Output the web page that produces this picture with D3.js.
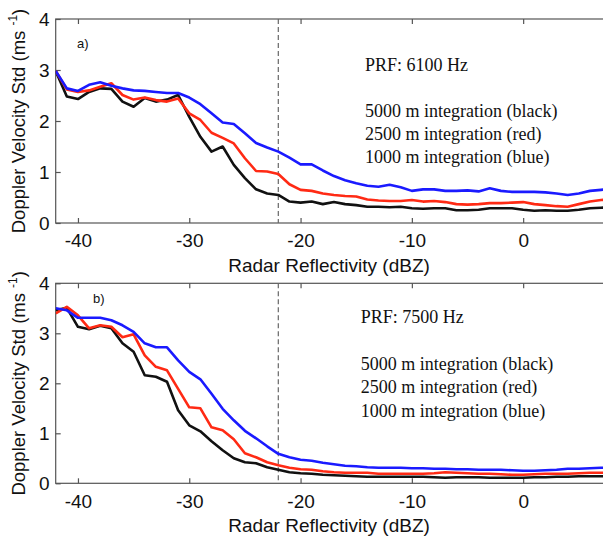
<!DOCTYPE html>
<html><head><meta charset="utf-8">
<script src="https://cdn.jsdelivr.net/npm/d3@7"></script>
<style>body{margin:0;background:#fff}</style>
</head><body><svg id="c" width="603" height="536"></svg>
<script>
// x categories (dBZ)
const dbz = [-42,-41,-40,-39,-38,-37,-36,-35,-34,-33,-32,-31,-30,-29,-28,-27,-26,-25,-24,-23,-22,-21,-20,
  -19,-18,-17,-16,-15,-14,-13,-12,-11,-10,-9,-8,-7,-6,-5,-4,-3,-2,-1,0,1,2,3,4,5,6,7,8];

// Panel a) PRF 6100 Hz
const aBlack = [2.98,2.48,2.43,2.57,2.64,2.63,2.38,2.28,2.45,2.38,2.42,2.51,2.08,1.69,1.40,1.50,1.14,0.88,0.66,0.58,0.55,0.42,0.40,
  0.42,0.37,0.41,0.37,0.35,0.32,0.32,0.31,0.32,0.29,0.28,0.29,0.29,0.25,0.25,0.26,0.29,0.29,0.29,0.26,0.24,0.25,0.24,0.24,0.26,0.29,0.30,0.31];
const aRed = [2.98,2.62,2.57,2.60,2.67,2.74,2.51,2.42,2.46,2.41,2.38,2.44,2.15,2.02,1.77,1.67,1.56,1.27,1.02,1.01,0.96,0.76,0.65,
  0.63,0.58,0.55,0.53,0.52,0.46,0.44,0.43,0.43,0.45,0.42,0.43,0.41,0.37,0.36,0.37,0.39,0.39,0.40,0.41,0.37,0.35,0.33,0.32,0.37,0.42,0.45,0.47];
const aBlue = [2.98,2.64,2.59,2.71,2.76,2.69,2.64,2.60,2.59,2.57,2.55,2.55,2.46,2.33,2.15,1.97,1.94,1.76,1.57,1.48,1.40,1.28,1.15,
  1.15,1.03,0.92,0.84,0.78,0.73,0.71,0.75,0.70,0.63,0.66,0.66,0.63,0.63,0.64,0.62,0.68,0.63,0.61,0.61,0.61,0.60,0.58,0.55,0.58,0.63,0.65,0.67];

// Panel b) PRF 7500 Hz
const bBlack = [3.46,3.51,3.13,3.08,3.15,3.10,2.80,2.63,2.16,2.13,2.03,1.46,1.16,1.04,0.84,0.66,0.50,0.42,0.40,0.32,0.27,0.22,0.20,
  0.19,0.17,0.16,0.15,0.14,0.13,0.13,0.13,0.13,0.13,0.13,0.12,0.11,0.12,0.12,0.12,0.11,0.11,0.11,0.11,0.12,0.12,0.13,0.13,0.14,0.14,0.14,0.14];
const bRed = [3.40,3.53,3.36,3.10,3.16,3.13,2.92,2.98,2.56,2.33,2.26,1.89,1.52,1.50,1.12,1.06,0.88,0.60,0.52,0.42,0.36,0.31,0.28,
  0.27,0.24,0.22,0.21,0.21,0.21,0.19,0.19,0.19,0.19,0.19,0.20,0.22,0.21,0.20,0.19,0.19,0.18,0.17,0.17,0.18,0.19,0.19,0.19,0.20,0.21,0.21,0.21];
const bBlue = [3.50,3.46,3.31,3.31,3.31,3.26,3.16,3.03,2.80,2.72,2.72,2.46,2.23,2.08,1.79,1.49,1.26,1.05,0.90,0.74,0.59,0.52,0.47,
  0.45,0.41,0.38,0.35,0.34,0.32,0.31,0.31,0.31,0.30,0.30,0.29,0.29,0.28,0.28,0.27,0.27,0.27,0.26,0.25,0.25,0.26,0.27,0.29,0.29,0.30,0.31,0.31];

const xTicks = [-40,-30,-20,-10,0];
const yTicks = [0,1,2,3,4];
const thresholdDbz = -22;
const legendLines = ["5000 m integration (black)","2500 m integration (red)","1000 m integration (blue)"];
const seriesColors = ["#111111","#ff2a14","#1a1aff"];
const xLabel = "Radar Reflectivity (dBZ)";
const yLabel = "Doppler Velocity Std (ms";

const panels = [
  {top:19, bottom:223, tag:"a)", tagX:77, tagY:48, prf:"PRF: 6100 Hz", legX:365, legY:[70.7,117.3,140.3,163.3], data:[aBlack,aRed,aBlue]},
  {top:283.3, bottom:483.3, tag:"b)", tagX:93, tagY:303, prf:"PRF: 7500 Hz", legX:360.7, legY:[323.3,370,393.3,416.7], data:[bBlack,bRed,bBlue]}
];

const svg = d3.select("#c");
const left = 55.7, right = 612.2;
const x = d3.scaleLinear().domain([-42, 8]).range([left, right]);
const sans = "Liberation Sans, Arial, Helvetica, sans-serif";
const serif = "Liberation Serif, Times New Roman, serif";
const axisCol = "#555";

panels.forEach((p, i) => {
  const y = d3.scaleLinear().domain([0, 4]).range([p.bottom, p.top]);
  const g = svg.append("g");
  const clipId = "clip" + i;
  svg.append("clipPath").attr("id", clipId).append("rect")
    .attr("x", left).attr("y", p.top).attr("width", right - left).attr("height", p.bottom - p.top);

  // frame
  g.append("rect").attr("x", left).attr("y", p.top).attr("width", right - left).attr("height", p.bottom - p.top)
    .attr("fill", "none").attr("stroke", axisCol).attr("stroke-width", 1.2);

  // axes
  const ax = g.append("g").attr("transform", `translate(0,${p.bottom})`)
    .call(d3.axisBottom(x).tickValues(xTicks).tickSize(-5).tickPadding(11).tickFormat(d3.format("d")));
  const axT = g.append("g").attr("transform", `translate(0,${p.top})`)
    .call(d3.axisTop(x).tickValues(xTicks).tickSize(-5).tickFormat(""));
  const ay = g.append("g").attr("transform", `translate(${left},0)`)
    .call(d3.axisLeft(y).tickValues(yTicks).tickSize(-5).tickPadding(6).tickFormat(d3.format("d")));
  [ax, axT, ay].forEach(a => {
    a.select(".domain").remove();
    a.selectAll(".tick line").attr("stroke", axisCol).attr("stroke-width", 1.2);
    a.selectAll("text").attr("font-family", sans).attr("font-size", 19).attr("fill", "#111");
  });
  ax.selectAll("text").text(d => d < 0 ? "-" + Math.abs(d) : d);

  // dashed threshold
  g.append("line").attr("x1", x(thresholdDbz)).attr("x2", x(thresholdDbz))
    .attr("y1", p.top).attr("y2", p.bottom)
    .attr("stroke", "#666").attr("stroke-width", 1.2).attr("stroke-dasharray", "5,3");

  // lines
  const line = d3.line().x((d, k) => x(dbz[k])).y(d => y(d));
  p.data.forEach((s, k) => {
    g.append("path").datum(s).attr("d", line).attr("clip-path", `url(#${clipId})`)
      .attr("fill", "none").attr("stroke", seriesColors[k]).attr("stroke-width", 2.6)
      .attr("stroke-linejoin", "round");
  });

  // panel tag
  g.append("text").attr("x", p.tagX).attr("y", p.tagY).text(p.tag)
    .attr("font-family", sans).attr("font-size", 13).attr("fill", "#111");

  // PRF & legend text
  g.append("text").attr("x", p.legX).attr("y", p.legY[0]).text(p.prf)
    .attr("font-family", serif).attr("font-size", 18).attr("fill", "#111");
  legendLines.forEach((t, k) => {
    g.append("text").attr("x", p.legX).attr("y", p.legY[k + 1]).text(t)
      .attr("font-family", serif).attr("font-size", 18).attr("fill", "#111");
  });

  // x label
  g.append("text").attr("x", 329).attr("y", p.bottom + 48.5).attr("text-anchor", "middle")
    .attr("font-family", sans).attr("font-size", 19).attr("fill", "#111").text(xLabel);

  // y label
  const cy = (p.top + p.bottom) / 2;
  const yl = g.append("text").attr("transform", `translate(25,${cy}) rotate(-90)`).attr("text-anchor", "middle")
    .attr("font-family", sans).attr("font-size", 18.5).attr("fill", "#111");
  yl.append("tspan").text(yLabel + " ");
  yl.append("tspan").text("-1").attr("font-size", 12).attr("dy", -8);
  yl.append("tspan").text(")").attr("dy", 8);
});
</script></body></html>
